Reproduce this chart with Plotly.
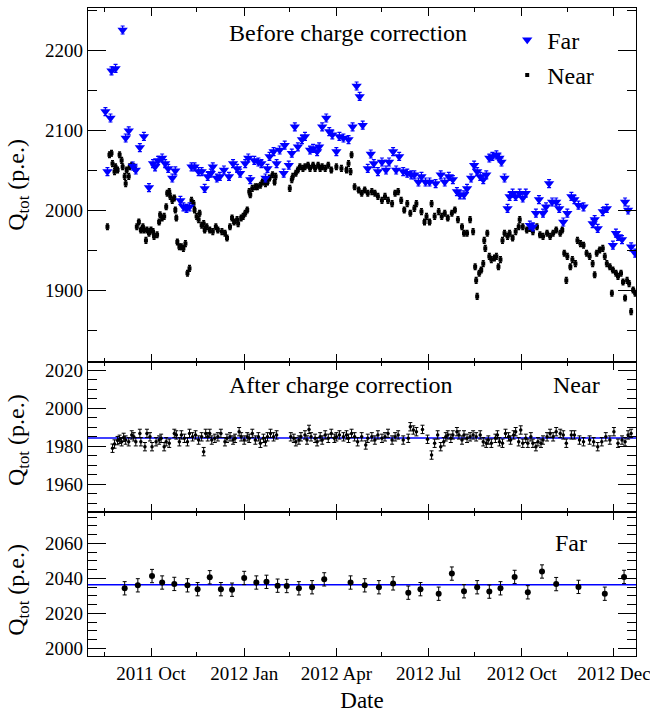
import pandas as pd
import plotly.graph_objects as go

BASE = pd.Timestamp("2011-10-01")

# ---------------- Top panel: before charge correction ----------------
far_day = [-45, -43, -40, -39, -35, -28, -25, -22, -18, -15, -11, -7, -2, 2, 4, 7, 11, 14, 17, 21,
           24, 29, 32, 35, 38, 40, 43, 47, 50, 53, 56, 59, 61, 65, 68, 72, 77, 81, 85, 88,
           93, 96, 98, 102, 106, 109, 113, 115, 117, 121, 124, 127, 131, 132, 136, 139, 142, 145, 149, 152,
           157, 160, 164, 166, 169, 173, 176, 179, 183, 186, 190, 195, 199, 203, 206, 209, 214, 217, 220, 224,
           228, 232, 235, 239, 242, 245, 249, 253, 257, 260, 264, 267, 271, 275, 281, 286, 290, 294, 298, 302,
           305, 309, 312, 316, 319, 322, 325, 328, 331, 334, 337, 341, 344, 346, 349, 352, 354, 357, 360, 364,
           367, 370, 374, 377, 380, 383, 387, 390, 393, 396, 400, 403, 407, 411, 415, 418, 422, 427, 436, 438,
           441, 446, 450, 456, 459, 461, 465, 468, 471, 474, 478]
far_q = [2123, 2048, 2115, 2174, 2177, 2225, 2090, 2099, 2055, 2050, 2078, 2092, 2028, 2058, 2054, 2062, 2065, 2058, 2052, 2040,
         2049, 2012, 2004, 2002, 2004, 2054, 2054, 2048, 2048, 2027, 2042, 2046, 2054, 2040, 2042, 2050, 2042, 2058, 2052, 2046,
         2058, 2065, 2038, 2062, 2060, 2058, 2040, 2052, 2067, 2073, 2058, 2075, 2046, 2081, 2056, 2071, 2104, 2079, 2088, 2092,
         2075, 2077, 2073, 2079, 2104, 2115, 2098, 2094, 2073, 2092, 2090, 2088, 2104, 2155, 2142, 2106, 2052, 2070, 2058, 2048,
         2060, 2050, 2060, 2073, 2050, 2067, 2048, 2046, 2044, 2044, 2035, 2042, 2035, 2035, 2033, 2044, 2035, 2042, 2038, 2023,
         2019, 2019, 2027, 2040, 2056, 2048, 2042, 2038, 2044, 2065, 2067, 2069, 2065, 2060, 2040, 2002, 2017, 2021, 2017, 2021,
         2015, 2021, 1981, 1979, 1996, 2013, 1996, 2004, 2033, 2010, 2010, 2002, 1985, 1996, 2017, 2013, 2006, 2004, 1983, 1988,
         1977, 1998, 2002, 1956, 1971, 1967, 1963, 2010, 2000, 1954, 1946]
far_err = 5.0

near_day = [-43, -41, -39, -38, -36, -35, -33, -31, -29, -28, -26, -25, -24, -22, -21, -19, -17, -16, -14, -12,
            -10, -8, -7, -5, -4, -2, 0, 2, 3, 6, 8, 9, 11, 13, 15, 16, 18, 19, 21, 23,
            24, 25, 26, 28, 30, 32, 34, 36, 38, 40, 42, 43, 45, 47, 48, 50, 52, 53, 55, 58,
            61, 64, 66, 70, 73, 75, 78, 80, 82, 85, 86, 89, 91, 93, 95, 97, 98, 100, 103, 105,
            108, 110, 113, 115, 117, 120, 122, 123, 137, 139, 140, 143, 145, 147, 150, 152, 155, 157, 160, 162,
            165, 167, 169, 172, 175, 178, 183, 188, 193, 195, 197, 198, 201, 205, 208, 211, 214, 218, 221, 224,
            228, 231, 234, 238, 241, 244, 247, 250, 253, 256, 260, 262, 267, 270, 272, 275, 277, 280, 284, 287,
            290, 293, 297, 300, 303, 307, 309, 312, 315, 318, 320, 321, 322, 324, 326, 328, 329, 330, 332, 334,
            336, 339, 341, 343, 345, 347, 349, 352, 354, 357, 360, 363, 364, 367, 371, 374, 377, 381, 384, 387,
            391, 394, 397, 400, 404, 406, 408, 410, 411, 414, 416, 419, 421, 424, 427, 430, 433, 436, 438, 440,
            443, 446, 448, 450, 453, 455, 456, 459, 461, 464, 466, 468, 470, 472, 474, 476, 478]
near_q = [1979, 2069, 2071, 2058, 2048, 2054, 2050, 2069, 2062, 2054, 2042, 2033, 2050, 2042, 2054, 2056, 2054, 2052, 1979, 1985,
          1975, 1979, 1975, 1962, 1975, 1971, 1975, 1973, 1967, 1969, 1985, 1994, 1990, 1992, 2004, 2021, 2023, 2017, 2012, 2015,
          2000, 1990, 1960, 1954, 1954, 1952, 1958, 1921, 1927, 2012, 2008, 2000, 1992, 1988, 1996, 1981, 1983, 1975, 1979, 1975,
          1973, 1979, 1975, 1973, 1971, 1965, 1979, 1990, 1985, 1988, 1983, 1990, 1992, 1996, 2000, 2023, 2019, 2027, 2029, 2029,
          2031, 2035, 2033, 2035, 2040, 2044, 2035, 2042, 2027, 2038, 2042, 2046, 2050, 2054, 2052, 2054, 2056, 2052, 2056, 2052,
          2056, 2052, 2054, 2052, 2056, 2050, 2054, 2052, 2050, 2058, 2048, 2069, 2029, 2025, 2021, 2025, 2021, 2023, 2021, 2017,
          2012, 2017, 2012, 2008, 2021, 2023, 2012, 2000, 2008, 1996, 2002, 2008, 1998, 1985, 1992, 1985, 2008, 1992, 1998, 1992,
          1996, 1990, 1996, 2000, 1988, 1979, 1971, 1971, 1988, 1973, 1929, 1912, 1892, 1921, 1925, 1933, 1962, 1952, 1971, 1942,
          1938, 1940, 1942, 1929, 1938, 1962, 1971, 1967, 1971, 1965, 1973, 1979, 1988, 1979, 1975, 1977, 1973, 1979, 1969, 1967,
          1971, 1967, 1971, 1975, 1971, 1975, 1946, 1912, 1942, 1929, 1938, 1933, 1962, 1958, 1956, 1946, 1942, 1933, 1919, 1946,
          1950, 1952, 1942, 1933, 1929, 1896, 1925, 1921, 1917, 1921, 1910, 1890, 1912, 1908, 1873, 1900, 1896]
near_err = 3.5

# ---------------- Middle panel: Near after correction ----------------
nearc_day = [-38, -36, -33, -31, -29, -27, -25, -22, -19, -17, -15, -11, -10, -6, -4, -1, 1, 5, 8, 10,
             13, 15, 18, 23, 25, 28, 30, 33, 36, 38, 41, 44, 47, 50, 52, 54, 56, 58, 60, 63,
             66, 69, 73, 75, 78, 81, 83, 87, 89, 92, 95, 97, 100, 103, 106, 108, 111, 113, 115, 118,
             121, 124, 138, 141, 143, 146, 148, 152, 154, 156, 158, 162, 164, 167, 169, 172, 175, 178, 181, 183,
             186, 190, 193, 195, 198, 201, 204, 208, 212, 214, 218, 221, 224, 228, 231, 234, 238, 241, 244, 249,
             254, 256, 259, 262, 268, 273, 277, 280, 283, 286, 289, 291, 293, 296, 298, 302, 304, 307, 309, 312,
             315, 318, 321, 325, 328, 331, 333, 336, 340, 342, 344, 347, 350, 353, 355, 358, 360, 363, 365, 367,
             370, 372, 375, 377, 380, 382, 385, 387, 391, 394, 397, 400, 404, 407, 410, 415, 418, 423, 427, 433,
             437, 441, 445, 449, 453, 457, 461, 465, 468, 471, 474]
nearc_q = [1979.0, 1981.2, 1983.0, 1983.7, 1982.4, 1984.7, 1983.3, 1982.4, 1986.0, 1985.0, 1982.4, 1986.8, 1982.4, 1979.8, 1986.8, 1985.0, 1979.8, 1982.4, 1983.3, 1984.2,
           1979.8, 1982.4, 1981.6, 1986.8, 1986.0, 1982.4, 1986.0, 1984.2, 1982.4, 1986.8, 1985.0, 1986.0, 1983.3, 1985.0, 1977.2, 1986.8, 1985.0, 1986.8, 1983.3, 1984.2,
           1985.0, 1986.8, 1982.4, 1984.2, 1985.0, 1983.3, 1984.2, 1987.7, 1985.0, 1983.3, 1985.0, 1984.2, 1986.8, 1983.3, 1985.0, 1981.6, 1984.2, 1982.4, 1985.0, 1986.8,
           1985.0, 1986.0, 1985.0, 1984.2, 1982.4, 1983.3, 1985.0, 1986.0, 1983.3, 1988.9, 1985.0, 1984.2, 1982.4, 1985.0, 1983.3, 1986.0, 1984.2, 1986.8, 1984.2, 1985.0,
           1986.0, 1985.0, 1986.0, 1984.2, 1986.8, 1985.0, 1982.4, 1985.0, 1980.7, 1984.2, 1985.0, 1983.3, 1986.0, 1984.2, 1985.0, 1986.8, 1983.3, 1985.0, 1986.0, 1983.3,
           1984.2, 1990.3, 1988.6, 1987.7, 1988.9, 1983.7, 1975.4, 1981.6, 1986.0, 1979.8, 1982.4, 1985.0, 1986.0, 1984.2, 1986.0, 1987.7, 1986.0, 1983.3, 1986.0, 1984.2,
           1985.0, 1986.0, 1985.0, 1986.0, 1982.4, 1981.6, 1983.3, 1981.6, 1984.2, 1986.0, 1982.4, 1981.6, 1986.8, 1985.0, 1983.3, 1986.0, 1987.7, 1982.4, 1988.6, 1981.6,
           1984.2, 1981.6, 1985.0, 1981.6, 1979.8, 1982.4, 1981.6, 1983.3, 1985.0, 1986.8, 1985.0, 1987.7, 1986.8, 1986.0, 1981.6, 1986.0, 1986.0, 1983.3, 1982.4, 1983.3,
           1982.4, 1979.8, 1982.4, 1985.0, 1983.3, 1987.7, 1981.6, 1983.3, 1982.4, 1986.0, 1986.8]
nearc_err = 2.2
near_fit = 1984.4

# ---------------- Bottom panel: Far after correction ----------------
farc_day = [-26, -13, 1, 11, 23, 36, 46, 58, 69, 80, 92, 104, 114, 125, 134, 146, 159, 171,
            197, 211, 225, 239, 254, 266, 284, 297, 309, 322, 334, 345, 359, 372, 386, 400, 422, 448, 467]
farc_q = [2034.3, 2036.0, 2041.3, 2037.6, 2036.8, 2036.0, 2033.8, 2040.6, 2033.8, 2033.5, 2040.2, 2037.6, 2038.0, 2035.8, 2035.6, 2034.3, 2034.9, 2039.4,
          2037.6, 2036.0, 2034.9, 2037.1, 2031.8, 2033.8, 2031.2, 2042.7, 2032.6, 2034.9, 2032.4, 2034.3, 2040.8, 2032.0, 2043.9, 2036.7, 2035.1, 2031.2, 2040.8]
farc_err = 3.8
far_fit = 2036.3

# ---------------- Axis ticks ----------------
tick_dates = ["2011-10-01", "2012-01-01", "2012-04-01", "2012-07-01", "2012-10-01", "2012-12-31"]
tick_text = ["2011 Oct", "2012 Jan", "2012 Apr", "2012 Jul", "2012 Oct", "2012 Dec"]
minor_dates = ["2011-08-16", "2011-11-15", "2012-02-15", "2012-05-16", "2012-08-15", "2012-11-15"]
x_range_days = [-62.2, 478.8]

assert len(far_day) == len(far_q)
assert len(near_day) == len(near_q)
assert len(nearc_day) == len(nearc_q)
assert len(farc_day) == len(farc_q)


def to_dates(days):
    return BASE + pd.to_timedelta(days, unit="D")


FONT = "'Liberation Serif', 'Times New Roman', 'DejaVu Serif', serif"
BLUE = "#0000ff"
LW = 1.2
TICK_FS = 19
LABEL_FS = 24

fig = go.Figure()

fig.add_trace(go.Scatter(
    x=to_dates(near_day), y=near_q, mode="markers", name="Near", legendgroup="near", legendrank=2,
    marker=dict(symbol="square", size=4, color="black"),
    error_y=dict(type="constant", value=near_err, color="black", thickness=1.5, width=1.5),
    xaxis="x", yaxis="y"))
fig.add_trace(go.Scatter(
    x=to_dates(far_day), y=far_q, mode="markers", name="Far", legendgroup="far", legendrank=1,
    marker=dict(symbol="triangle-down", size=9, color=BLUE),
    error_y=dict(type="constant", value=far_err, color=BLUE, thickness=1.2, width=2),
    xaxis="x", yaxis="y"))
fig.add_trace(go.Scatter(
    x=to_dates(nearc_day), y=nearc_q, mode="markers", showlegend=False,
    marker=dict(symbol="circle", size=3.5, color="black"),
    error_y=dict(type="constant", value=nearc_err, color="black", thickness=1, width=2),
    xaxis="x2", yaxis="y2"))
fig.add_trace(go.Scatter(
    x=to_dates(farc_day), y=farc_q, mode="markers", showlegend=False,
    marker=dict(symbol="circle", size=6, color="black"),
    error_y=dict(type="constant", value=farc_err, color="black", thickness=1, width=2),
    xaxis="x3", yaxis="y3"))

fig.add_shape(type="line", xref="x2 domain", yref="y2", x0=0, x1=1, y0=near_fit, y1=near_fit,
              line=dict(color=BLUE, width=1.5), layer="below")
fig.add_shape(type="line", xref="x3 domain", yref="y3", x0=0, x1=1, y0=far_fit, y1=far_fit,
              line=dict(color=BLUE, width=1.5), layer="below")

xr = list(to_dates(x_range_days))
common_x = dict(
    type="date", range=xr, showline=True, linecolor="black", linewidth=LW, mirror="allticks",
    ticks="inside", ticklen=8, tickwidth=1.2, tickcolor="black",
    tickmode="array", tickvals=tick_dates, ticktext=tick_text,
    minor=dict(tickmode="array", tickvals=minor_dates, ticklen=4, tickwidth=1.2, tickcolor="black", ticks="inside"),
    showgrid=False, zeroline=False, automargin=False, ticklabeloverflow="allow",
    tickfont=dict(family=FONT, size=TICK_FS, color="black"),
)
common_y = dict(
    showline=True, linecolor="black", linewidth=LW, mirror="allticks",
    ticks="inside", ticklen=18, tickwidth=1.2, tickcolor="black",
    showgrid=False, zeroline=False, automargin=False,
    tickfont=dict(family=FONT, size=TICK_FS, color="black"),
)

d_mid = 0.2222
d_top = 0.4537

fig.update_layout(
    width=650, height=713,
    margin=dict(l=88, r=14, t=8, b=57),
    paper_bgcolor="white", plot_bgcolor="white",
    font=dict(family=FONT, size=TICK_FS, color="black"),
    xaxis=dict(common_x, anchor="y", domain=[0, 1], showticklabels=False),
    xaxis2=dict(common_x, anchor="y2", domain=[0, 1], matches="x", showticklabels=False),
    xaxis3=dict(common_x, anchor="y3", domain=[0, 1], matches="x", showticklabels=True,
                title=dict(text="Date", font=dict(family=FONT, size=23, color="black"), standoff=10)),
    yaxis=dict(common_y, anchor="x", domain=[d_top, 1], range=[1810, 2252.5], dtick=100, tick0=0,
               minor=dict(dtick=50, ticklen=9, tickwidth=1.2, tickcolor="black", ticks="inside")),
    yaxis2=dict(common_y, anchor="x2", domain=[d_mid, d_top], range=[1945.4, 2024.4], dtick=20, tick0=0,
                minor=dict(dtick=5, ticklen=9, tickwidth=1.2, tickcolor="black", ticks="inside")),
    yaxis3=dict(common_y, anchor="x3", domain=[0, d_mid], range=[1995.6, 2077.9], dtick=20, tick0=0,
                minor=dict(dtick=5, ticklen=9, tickwidth=1.2, tickcolor="black", ticks="inside")),
    legend=dict(x=0.765, y=0.985, xanchor="left", yanchor="top", bgcolor="rgba(0,0,0,0)",
                font=dict(family=FONT, size=LABEL_FS, color="black"), tracegroupgap=1,
                itemwidth=30),
    showlegend=True,
)

ann_font = dict(family=FONT, size=LABEL_FS, color="black")
annotations = [
    dict(text="Before charge correction", x=0.4745, y=0.9614),
    dict(text="After charge correction", x=0.46, y=0.418),
    dict(text="Near", x=0.892, y=0.418),
    dict(text="Far", x=0.881, y=0.174),
]
for a in annotations:
    fig.add_annotation(xref="paper", yref="paper", showarrow=False, xanchor="center", yanchor="middle",
                       font=ann_font, **a)

for yc in [0.727, 0.333, 0.102]:
    fig.add_annotation(text="Q<sub>tot</sub> (p.e.)", xref="paper", yref="paper", x=-0.128, y=yc,
                       textangle=-90, showarrow=False, xanchor="center", yanchor="middle",
                       font=dict(family=FONT, size=LABEL_FS, color="black"))

fig.write_html("out.html")
